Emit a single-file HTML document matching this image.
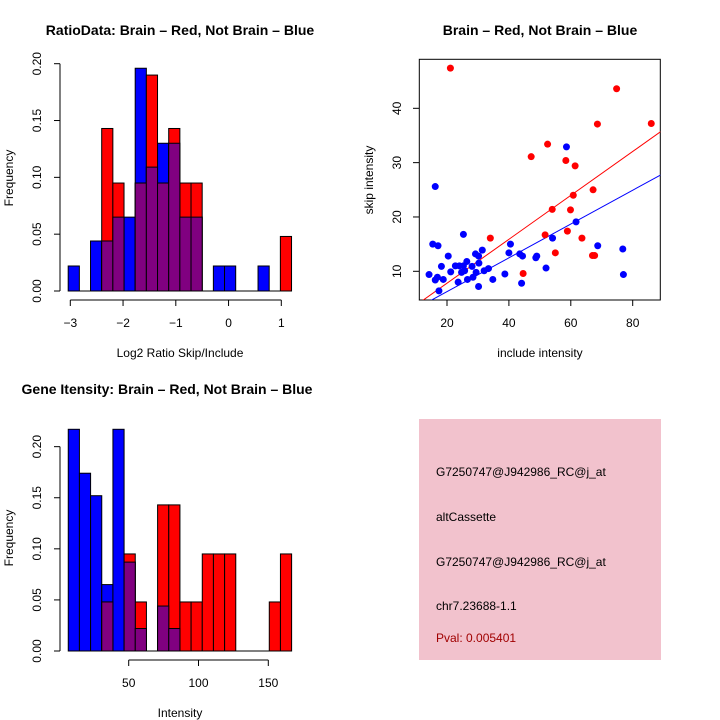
<!DOCTYPE html>
<html><head><meta charset="utf-8"><style>
html,body{margin:0;padding:0;background:#fff}
svg{display:block;font-family:"Liberation Sans",sans-serif}
</style></head><body>
<svg id="s" width="720" height="720" viewBox="0 0 720 720">
<text x="180" y="35" text-anchor="middle" font-size="14" font-weight="bold">RatioData: Brain – Red, Not Brain – Blue</text>
<text x="540" y="35" text-anchor="middle" font-size="14" font-weight="bold">Brain – Red, Not Brain – Blue</text>
<text x="167" y="394" text-anchor="middle" font-size="14" font-weight="bold">Gene Itensity: Brain – Red, Not Brain – Blue</text>
<text x="180" y="357" text-anchor="middle" font-size="12">Log2 Ratio Skip/Include</text>
<text x="13" y="178" text-anchor="middle" font-size="12" transform="rotate(-90 13 178)">Frequency</text>
<text x="540" y="357" text-anchor="middle" font-size="12">include intensity</text>
<text x="373" y="180" text-anchor="middle" font-size="12" transform="rotate(-90 373 180)">skip intensity</text>
<text x="180" y="717" text-anchor="middle" font-size="12">Intensity</text>
<text x="13" y="538" text-anchor="middle" font-size="12" transform="rotate(-90 13 538)">Frequency</text>
<g>
<rect x="419" y="419" width="242" height="241" fill="#f2c2cd"/>
<text x="436" y="476" font-size="12">G7250747@J942986_RC@j_at</text>
<text x="436" y="521" font-size="12">altCassette</text>
<text x="436" y="566" font-size="12">G7250747@J942986_RC@j_at</text>
<text x="436" y="610" font-size="12">chr7.23688-1.1</text>
<text x="436" y="642" font-size="12" fill="#a00000">Pval: 0.005401</text>
</g>
</svg>
<script>
// Ratio histogram data
const ratioBreakStart = -3.04, ratioBinWidth = 0.2117;
const ratioBlue = [0.022,0,0.044,0.044,0.065,0.065,0.196,0.109,0.130,0.130,0.065,0.065,0,0.022,0.022,0,0,0.022,0,0];
const ratioRed  = [0,0,0,0.143,0.095,0,0.095,0.190,0.095,0.143,0.095,0.095,0,0,0,0,0,0,0,0.048];
const ratioXTicks = [-3,-2,-1,0,1];
const ratioYTicks = [0,0.05,0.10,0.15,0.20];
const ratioYLabels = ["0.00","0.05","0.10","0.15","0.20"];
// Intensity histogram data
const intBreakStart = 6.7, intBinWidth = 8.0;
const intBlue = [0.217,0.174,0.152,0.065,0.217,0.087,0.022,0,0.044,0.022,0,0,0,0,0,0,0,0,0,0];
const intRed  = [0,0,0,0.048,0,0.095,0.048,0,0.143,0.143,0.048,0.048,0.095,0.095,0.095,0,0,0,0.048,0.095];
const intXTicks = [50,100,150];
const intYTicks = [0,0.05,0.10,0.15,0.20];
const intYLabels = ["0.00","0.05","0.10","0.15","0.20"];
// Scatter data
const redX = [21.1,74.8,86,68.6,52.5,47.2,58.4,61.4,67.2,60.8,54,59.9,51.7,58.9,63.6,34,55,67,67.7,44.6];
const redY = [47.4,43.6,37.2,37.1,33.4,31.1,30.4,29.4,25,24,21.4,21.3,16.7,17.4,16.1,16.1,13.4,12.9,12.9,9.6];
const blueX = [16.2,58.6,61.7,54.1,25.3,15.4,17.1,40.5,68.7,76.8,31.4,29.2,40,43.5,44.4,49,48.7,20.4,30.2,26.4,30.3,22.7,24,25.3,18.2,28.1,33.4,32,25.7,24.7,29.4,21.2,14.2,38.7,52,77,16.9,28.4,16.2,18.8,26.6,34.8,23.6,44.1,30.2,17.4];
const blueY = [25.6,32.9,19.1,16.1,16.8,15,14.7,15,14.7,14.1,13.9,13.2,13.4,13.2,12.8,12.8,12.5,12.8,12.8,11.8,11.5,11,11,11,10.9,10.9,10.5,10.1,10.1,9.8,9.8,9.9,9.4,9.5,10.6,9.4,8.9,8.9,8.4,8.5,8.5,8.5,8,7.8,7.2,6.4];
const redFit = [-0.27,0.404];
const blueFit = [0.04,0.311];
const scXTicks = [20,40,60,80];
const scYTicks = [10,20,30,40];

const NS = "http://www.w3.org/2000/svg";
const svg = document.getElementById('s');
function mk(tag, attrs, parent){ const e=document.createElementNS(NS,tag); for(const k in attrs) e.setAttribute(k,attrs[k]); (parent||svg).appendChild(e); return e; }

function hist(name, start, w, blue, red, xs, ys, yticks, ylabels, xticks, tickY) {
  const g = mk('g',{});
  
  
  const bar = (i, v, fill, nm) => {
    if (v<=0) return;
    const x1 = xs(start+i*w), x2 = xs(start+(i+1)*w);
    const r = mk('rect',{x:x1,y:ys(v),width:x2-x1,height:ys(0)-ys(v),fill:fill,stroke:'#000','stroke-width':1},g);
    
    
  };
  blue.forEach((v,i)=>bar(i,v,'#0000ff','blue-bar'));
  red.forEach((v,i)=>bar(i,v,'#ff0000','red-bar'));
  blue.forEach((v,i)=>bar(i,Math.min(v,red[i]),'#800080','overlap-bar'));
  const n = blue.length;
  mk('line',{x1:xs(start),x2:xs(start+n*w),y1:ys(0),y2:ys(0),stroke:'#000'},g);
  const ya = mk('g',{},g);
  
  
  mk('line',{x1:60,x2:60,y1:ys(yticks[0]),y2:ys(yticks[yticks.length-1]),stroke:'#000'},ya);
  yticks.forEach((t,i)=>{
    mk('line',{x1:54,x2:60,y1:ys(t),y2:ys(t),stroke:'#000'},ya);
    const tx = mk('text',{x:41,y:ys(t),'font-size':12,'text-anchor':'middle',transform:`rotate(-90 41 ${ys(t)})`},ya);
    tx.textContent = ylabels[i];
  });
  const xa = mk('g',{},g);
  
  
  mk('line',{x1:xs(xticks[0]),x2:xs(xticks[xticks.length-1]),y1:tickY,y2:tickY,stroke:'#000'},xa);
  xticks.forEach(t=>{
    mk('line',{x1:xs(t),x2:xs(t),y1:tickY,y2:tickY+6,stroke:'#000'},xa);
    const tx = mk('text',{x:xs(t),y:tickY+27,'font-size':12,'text-anchor':'middle'},xa);
    tx.textContent = String(t).replace('-','\u2212');
  });
}
hist('ratio-histogram', ratioBreakStart, ratioBinWidth, ratioBlue, ratioRed,
  v=>70.3+(v+3)*52.75, v=>291-v*1136.5, ratioYTicks, ratioYLabels, ratioXTicks, 300);
hist('intensity-histogram', intBreakStart, intBinWidth, intBlue, intRed,
  v=>128.7+(v-50)*1.396, v=>651-v*1021.7, intYTicks, intYLabels, intXTicks, 660);

// scatter
const sx = v=>447+(v-20)*3.095, sy = v=>271.3-(v-10)*5.433;
const sg = mk('g',{});


const cp = mk('clipPath',{id:'clp'},sg);
mk('rect',{x:419.3,y:59.3,width:241,height:240.7},cp);
mk('rect',{x:419.3,y:59.3,width:241,height:240.7,fill:'none',stroke:'#000'},sg);
function fit(f,col,nm){
  const x1=5,x2=100;
  const l = mk('line',{x1:sx(x1),y1:sy(f[0]+f[1]*x1),x2:sx(x2),y2:sy(f[0]+f[1]*x2),stroke:col,'clip-path':'url(#clp)'},sg);
  
  
}
fit(redFit,'#ff0000','red-fit-line');
fit(blueFit,'#0000ff','blue-fit-line');
blueX.forEach((x,i)=>{
  const c = mk('circle',{cx:sx(x),cy:sy(blueY[i]),r:3.5,fill:'#0000ff'},sg);
  
  
});
redX.forEach((x,i)=>{
  const c = mk('circle',{cx:sx(x),cy:sy(redY[i]),r:3.5,fill:'#ff0000'},sg);
  
  
});
scXTicks.forEach(t=>{
  mk('line',{x1:sx(t),x2:sx(t),y1:300,y2:306,stroke:'#000'},sg);
  const tx = mk('text',{x:sx(t),y:327,'font-size':12,'text-anchor':'middle'},sg);
  tx.textContent = t;
});
scYTicks.forEach(t=>{
  mk('line',{x1:413,x2:419.3,y1:sy(t),y2:sy(t),stroke:'#000'},sg);
  const tx = mk('text',{x:401,y:sy(t),'font-size':12,'text-anchor':'middle',transform:`rotate(-90 401 ${sy(t)})`},sg);
  tx.textContent = t;
});
</script>
</body></html>
